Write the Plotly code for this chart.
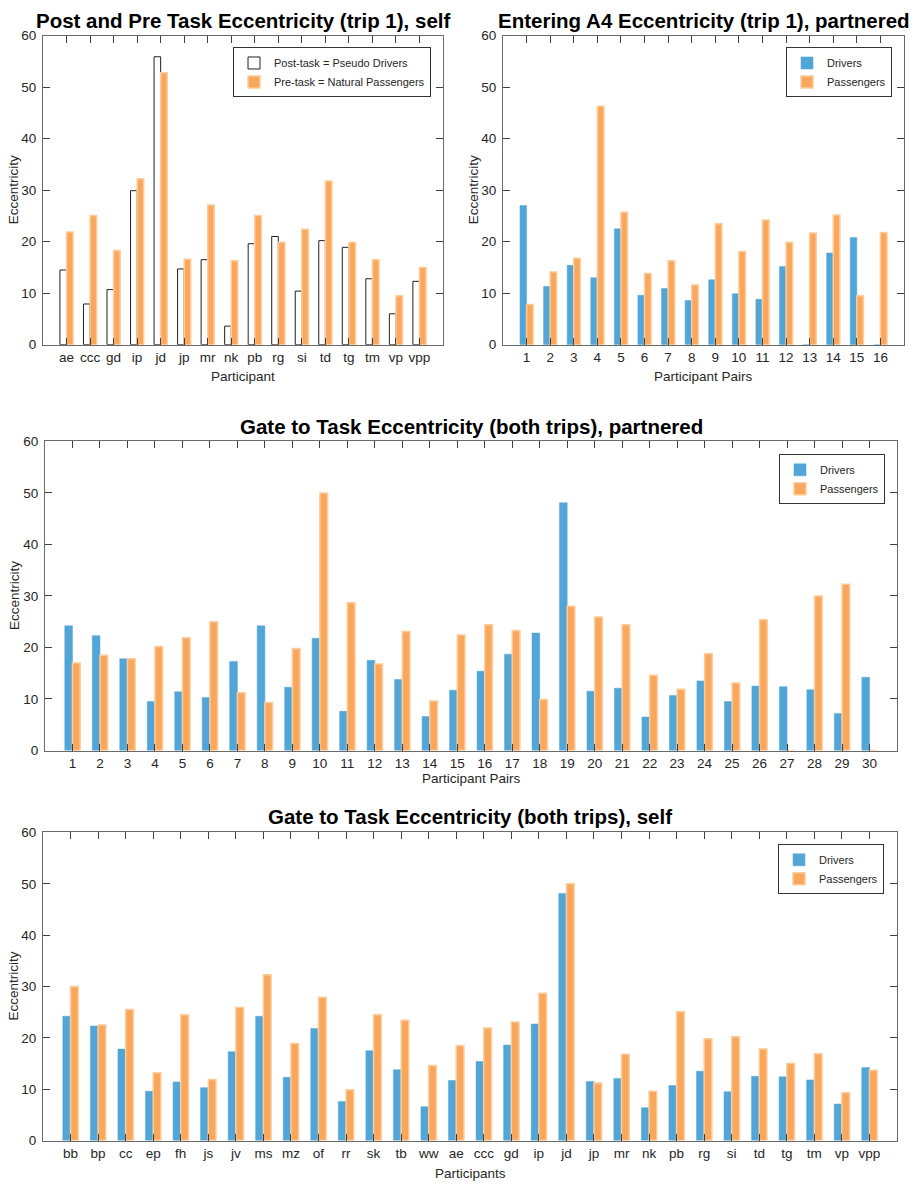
import plotly.graph_objects as go

W, H = 921, 1189

# ---------------- data ----------------
p1_labels = ["ae", "ccc", "gd", "ip", "jd", "jp", "mr", "nk", "pb", "rg", "si", "td", "tg", "tm", "vp", "vpp"]
p1_post = [14.5, 7.9, 10.7, 29.9, 55.9, 14.7, 16.5, 3.6, 19.6, 21.0, 10.4, 20.2, 18.9, 12.8, 6.0, 12.3]
p1_pre = [21.9, 25.1, 18.3, 32.2, 52.8, 16.6, 27.1, 16.3, 25.1, 19.9, 22.4, 31.8, 19.9, 16.5, 9.5, 15.0]

p2_labels = [str(i) for i in range(1, 17)]
p2_drivers = [27.0, 11.3, 15.4, 13.0, 22.5, 9.6, 10.9, 8.6, 12.6, 9.9, 8.8, 15.2, 0.0, 17.8, 20.8, 0.0]
p2_passengers = [7.8, 14.1, 16.8, 46.3, 25.7, 13.8, 16.3, 11.6, 23.5, 18.1, 24.2, 19.9, 21.7, 25.2, 9.5, 21.8]

p3_labels = [str(i) for i in range(1, 31)]
p3_drivers = [24.2, 22.3, 17.8, 9.5, 11.4, 10.3, 17.3, 24.2, 12.3, 21.8, 7.6, 17.5, 13.8, 6.6, 11.7,
              15.4, 18.7, 22.8, 48.1, 11.5, 12.1, 6.5, 10.7, 13.5, 9.5, 12.5, 12.4, 11.8, 7.2, 14.2]
p3_passengers = [17.0, 18.5, 17.8, 20.2, 21.9, 25.0, 11.2, 9.3, 19.8, 50.0, 28.7, 16.8, 23.1, 9.6, 22.4,
                 24.4, 23.3, 9.9, 28.0, 25.9, 24.4, 14.6, 11.9, 18.8, 13.1, 25.4, 0.0, 30.0, 32.3, 0.0]

p4_labels = ["bb", "bp", "cc", "ep", "fh", "js", "jv", "ms", "mz", "of", "rr", "sk", "tb", "ww", "ae",
             "ccc", "gd", "ip", "jd", "jp", "mr", "nk", "pb", "rg", "si", "td", "tg", "tm", "vp", "vpp"]
p4_drivers = [24.2, 22.3, 17.8, 9.6, 11.4, 10.3, 17.3, 24.2, 12.3, 21.8, 7.6, 17.5, 13.8, 6.6, 11.7,
              15.4, 18.6, 22.7, 48.1, 11.5, 12.1, 6.4, 10.7, 13.5, 9.5, 12.5, 12.4, 11.8, 7.1, 14.2]
p4_passengers = [30.0, 22.5, 25.5, 13.2, 24.5, 11.9, 25.9, 32.3, 18.9, 27.9, 9.9, 24.5, 23.4, 14.6, 18.5,
                 21.9, 23.1, 28.7, 50.0, 11.2, 16.8, 9.6, 25.1, 19.8, 20.2, 17.8, 15.0, 16.9, 9.3, 13.7]

titles = ["Post and Pre Task Eccentricity (trip 1), self",
          "Entering A4 Eccentricity (trip 1), partnered",
          "Gate to Task Eccentricity (both trips), partnered",
          "Gate to Task Eccentricity (both trips), self"]
xtitles = ["Participant", "Participant Pairs", "Participant Pairs", "Participants"]
ytitle = "Eccentricity"
y_ticks = [0, 10, 20, 30, 40, 50, 60]

# ---------------- style ----------------
FONT = "Liberation Sans, Arial, Helvetica, sans-serif"
BLUE = "#52A6D7"
ORANGE = "#FAA75E"
ORANGE_EDGE = "#FCCD9A"
AXC = "#6a6a6a"
TXT = "#262626"

def px_x(v):
    return v / W

def px_y(v):
    return 1 - v / H

# panel boxes in pixels: left, right, top, bottom
boxes = [(43, 443, 29, 342), (503, 904, 29, 342), (45, 897, 440, 753), (43, 897, 836, 1148)]

fig = go.Figure()

def add_bar(idx, y, name, color, line_color, line_width, legend):
    n = len(y)
    xs = list(range(1, n + 1))
    fig.add_trace(go.Bar(
        x=xs, y=y, name=name,
        marker=dict(color=color, line=dict(color=line_color, width=line_width)),
        xaxis="x" if idx == 0 else f"x{idx+1}",
        yaxis="y" if idx == 0 else f"y{idx+1}",
        legend=legend, showlegend=True,
    ))

add_bar(0, p1_post, "Post-task = Pseudo Drivers", "white", "#202020", 1, "legend")
add_bar(0, p1_pre, "Pre-task = Natural Passengers", ORANGE, ORANGE_EDGE, 1.5, "legend")
add_bar(1, p2_drivers, "Drivers", BLUE, BLUE, 0.5, "legend2")
add_bar(1, p2_passengers, "Passengers", ORANGE, ORANGE_EDGE, 1.5, "legend2")
add_bar(2, p3_drivers, "Drivers", BLUE, BLUE, 0.5, "legend3")
add_bar(2, p3_passengers, "Passengers", ORANGE, ORANGE_EDGE, 1.5, "legend3")
add_bar(3, p4_drivers, "Drivers", BLUE, BLUE, 0.5, "legend4")
add_bar(3, p4_passengers, "Passengers", ORANGE, ORANGE_EDGE, 1.5, "legend4")

all_labels = [p1_labels, p2_labels, p3_labels, p4_labels]

layout = dict(
    width=W, height=H,
    margin=dict(l=0, r=0, t=0, b=0),
    paper_bgcolor="white", plot_bgcolor="white",
    barmode="group", bargap=0.44, bargroupgap=0.0,
    font=dict(family=FONT, color=TXT, size=13.5),
)

annotations = []
for i, (l, r, t, b) in enumerate(boxes):
    sfx = "" if i == 0 else str(i + 1)
    n = len(all_labels[i])
    layout[f"xaxis{sfx}"] = dict(
        domain=[px_x(l), px_x(r)],
        anchor=f"y{sfx}",
        range=[0, n + 1],
        tickmode="array", tickvals=list(range(1, n + 1)), ticktext=all_labels[i],
        ticks="inside", ticklen=7, tickwidth=1, tickcolor="#404040",
        showline=True, linecolor=AXC, linewidth=1, mirror="ticks",
        showgrid=False, zeroline=False,
        tickfont=dict(size=13.5, color=TXT, family=FONT),
        fixedrange=True,
    )
    layout[f"yaxis{sfx}"] = dict(
        domain=[px_y(b), px_y(t)],
        anchor=f"x{sfx}",
        range=[0, 60],
        tickmode="array", tickvals=y_ticks,
        ticks="inside", ticklen=7, tickwidth=1, tickcolor="#404040",
        showline=True, linecolor=AXC, linewidth=1, mirror="ticks",
        showgrid=False, zeroline=False,
        ticklabelstandoff=3,
        tickfont=dict(size=13.5, color=TXT, family=FONT),
        fixedrange=True,
    )
    cx = (l + r) / 2
    # title
    title_y = [13.5, 13.5, 425, 820][i]
    annotations.append(dict(
        text=f"<b>{titles[i]}</b>", x=px_x(cx), y=px_y(title_y),
        xref="paper", yref="paper", xanchor="center", yanchor="middle",
        showarrow=False, font=dict(size=20.5, color="black", family=FONT),
    ))
    # x title
    xt_y = [374, 374, 781, 1181][i]
    annotations.append(dict(
        text=xtitles[i], x=px_x(cx), y=px_y(xt_y),
        xref="paper", yref="paper", xanchor="center", yanchor="middle",
        showarrow=False, font=dict(size=13.5, color=TXT, family=FONT),
    ))
    # y title
    yt_x = l - 30
    annotations.append(dict(
        text=ytitle, x=px_x(yt_x), y=px_y((t + b) / 2), textangle=-90,
        xref="paper", yref="paper", xanchor="center", yanchor="middle",
        showarrow=False, font=dict(size=13.5, color=TXT, family=FONT),
    ))

layout["annotations"] = annotations

legend_pos = [(431, 41), (892, 41), (885, 453), (884, 848)]
for i, (lx, ly) in enumerate(legend_pos):
    key = "legend" if i == 0 else f"legend{i+1}"
    layout[key] = dict(
        x=px_x(lx), y=px_y(ly), xref="paper", yref="paper",
        xanchor="right", yanchor="top",
        bgcolor="white", bordercolor="#333333", borderwidth=1,
        font=dict(size=11, color=TXT, family=FONT),
        tracegroupgap=0, itemwidth=30,
        traceorder="normal",
    )

fig.update_layout(**layout)
fig.write_html("out.html")
